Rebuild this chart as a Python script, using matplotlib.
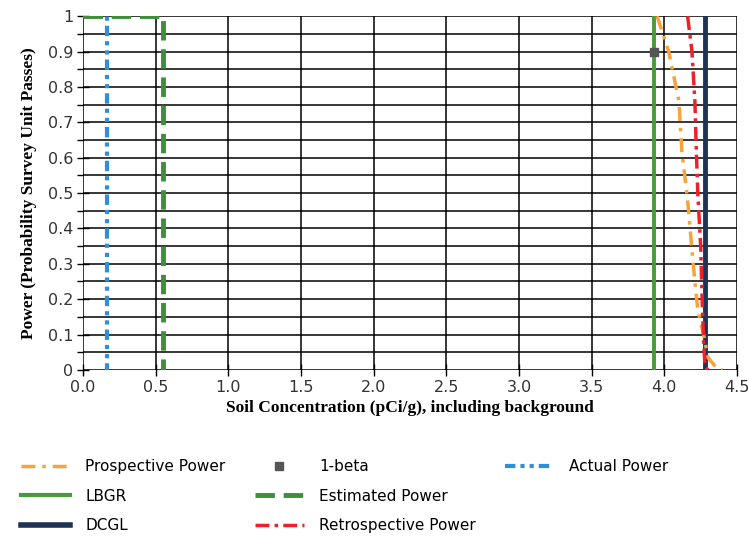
import numpy as np
import matplotlib.pyplot as plt
from matplotlib.lines import Line2D

# =========================
# data
# =========================

# Prospective Power curve
prosp_x = [3.95, 4.03, 4.10, 4.12, 4.16, 4.19, 4.21, 4.23, 4.27, 4.30, 4.36, 4.40]
prosp_y = [1.00, 0.90, 0.76, 0.62, 0.48, 0.34, 0.25, 0.17, 0.10, 0.035, 0.005, 0.0]

# Retrospective Power curve
retro_x = [4.16, 4.19, 4.21, 4.22, 4.23, 4.25, 4.26, 4.27, 4.28, 4.30]
retro_y = [1.00, 0.90, 0.76, 0.62, 0.50, 0.35, 0.20, 0.08, 0.01, 0.0]

# Estimated / Actual power steps
est_x = [0.0, 0.55, 0.55]
est_y = [1.0, 1.0, 0.0]
act_x = [0.0, 0.165, 0.165]
act_y = [1.0, 1.0, 0.0]

lbgr = 3.93
dcgl = 4.28
beta_x = [3.93]
beta_y = [0.9]

x_ticks = np.arange(0, 4.51, 0.5)
y_ticks = np.arange(0, 1.01, 0.1)
y_labels = ["0", "0.1", "0.2", "0.3", "0.4", "0.5", "0.6", "0.7", "0.8", "0.9", "1"]

# =========================
# figure
# =========================

fig = plt.figure(figsize=(7.49, 5.40), dpi=100)
ax = fig.add_axes([0.111, 0.315, 0.873, 0.655])

# grid
for yy in np.arange(0, 1.001, 0.05):
    ax.axhline(yy, color="black", lw=1.1, zorder=1)
for xx in x_ticks:
    ax.axvline(xx, color="black", lw=1.1, zorder=1)

c_orange = "#F5A33A"
c_green = "#4A9A3C"
c_est = "#3E8E3A"
c_navy = "#1F3358"
c_red = "#F0202A"
c_blue = "#2F8FD8"

ax.plot(act_x, act_y, color=c_blue, lw=3, dashes=(2.5, 1.2, 1, 1.2, 1, 1.2), zorder=3)
ax.plot(est_x, est_y, color=c_est, lw=3.5, dashes=(4, 1.8), zorder=4)
ax.axvline(lbgr, color=c_green, lw=2.8, zorder=3)
ax.axvline(dcgl, color=c_navy, lw=3.5, zorder=3)
ax.plot(prosp_x, prosp_y, color=c_orange, lw=2.5, dashes=(4, 2, 1, 2), zorder=5)
ax.plot(retro_x, retro_y, color=c_red, lw=2.5, dashes=(4, 1.5, 1, 1.5), zorder=5)
ax.plot(beta_x, beta_y, "s", color="#555555", ms=6, zorder=6)

ax.set_xlim(0, 4.5)
ax.set_ylim(0, 1)
ax.set_xticks(x_ticks)
ax.set_xticklabels(["%.1f" % v for v in x_ticks])
ax.set_yticks(y_ticks)
ax.set_yticklabels(y_labels)
ax.set_yticks(np.arange(0.05, 1.0, 0.1), minor=True)
ax.tick_params(axis="both", which="major", direction="inout", length=8, width=1,
               labelsize=11.5, labelcolor="#333333", pad=3)
ax.tick_params(axis="y", which="minor", direction="out", length=4, width=1)
for s in ax.spines.values():
    s.set_visible(False)

ax.set_xlabel("Soil Concentration (pCi/g), including background",
              family="Liberation Serif", fontweight="bold", fontsize=12.5, labelpad=4)
ax.set_ylabel("Power (Probability Survey Unit Passes)",
              family="Liberation Serif", fontweight="bold", fontsize=12.5, labelpad=8)

# =========================
# legend
# =========================

blank = Line2D([], [], lw=0)
handles = [
    Line2D([], [], color=c_orange, lw=2.5, dashes=(4, 2, 1, 2)),
    Line2D([], [], color=c_green, lw=3),
    Line2D([], [], color=c_navy, lw=4),
    Line2D([], [], marker="s", color="#555555", lw=0, ms=6),
    Line2D([], [], color=c_est, lw=3.5, dashes=(4, 1.8)),
    Line2D([], [], color=c_red, lw=2.5, dashes=(4, 1.5, 1, 1.5)),
    Line2D([], [], color=c_blue, lw=3, dashes=(2.5, 1.2, 1, 1.2, 1, 1.2)),
    blank,
    blank,
]
labels = ["Prospective Power", "LBGR", "DCGL", "1-beta", "Estimated Power",
          "Retrospective Power", "Actual Power", "", ""]

fig.legend(handles, labels, ncol=3, loc="upper left", bbox_to_anchor=(0.01, 0.175),
           frameon=False, fontsize=11, handlelength=3.2, columnspacing=1.9,
           labelspacing=0.95, handletextpad=1.0)

plt.savefig("out.png", dpi=100)
